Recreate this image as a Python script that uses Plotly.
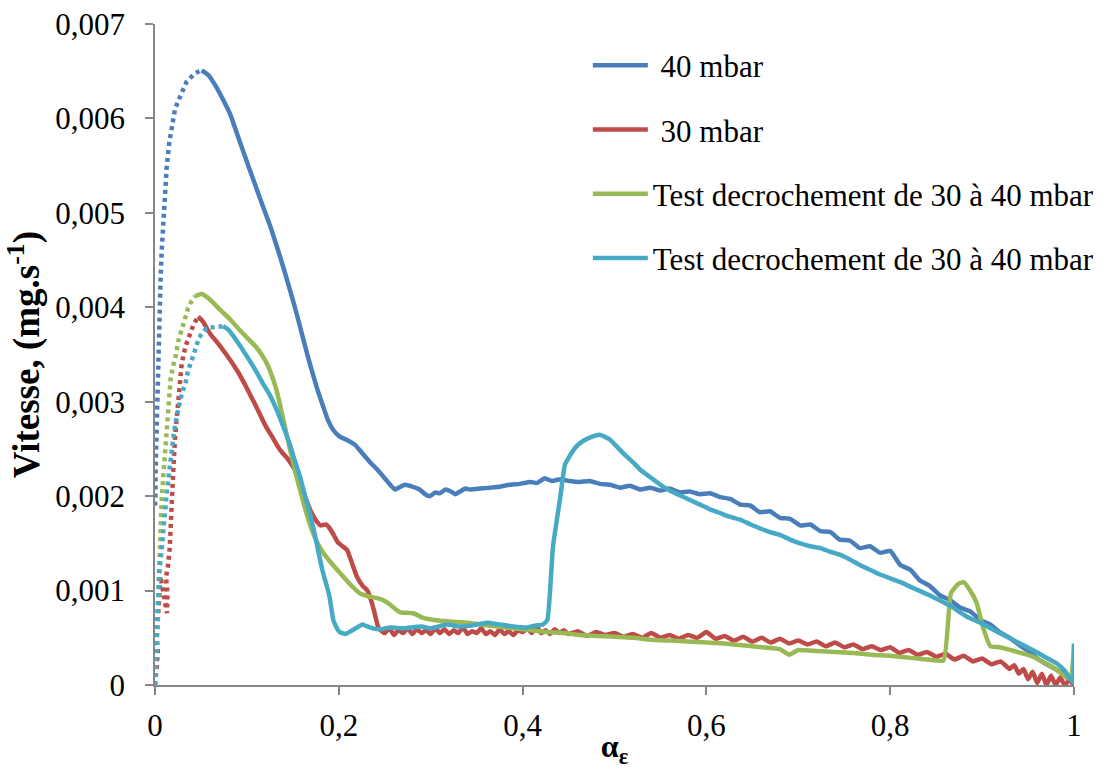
import plotly.graph_objects as go

# ---------------- data ----------------
# 40 mbar : dotted start, then solid
blue_dot_x = [0.0, 0.0004, 0.0007, 0.0018, 0.0036, 0.0047, 0.0062, 0.0073, 0.0091, 0.0109,
              0.0127, 0.0156, 0.0181, 0.0218, 0.029, 0.0345, 0.0435, 0.0508]
blue_dot_y = [1.90e-3, 1.96e-3, 2.31e-3, 2.75e-3, 3.63e-3, 3.99e-3, 4.34e-3, 4.60e-3, 4.96e-3, 5.24e-3,
              5.48e-3, 5.75e-3, 5.88e-3, 6.10e-3, 6.27e-3, 6.39e-3, 6.48e-3, 6.51e-3]
blue_x = [0.0508, 0.058, 0.065, 0.074, 0.082, 0.092, 0.103, 0.114, 0.125, 0.136,
          0.147, 0.155, 0.163, 0.170, 0.177, 0.183, 0.188, 0.194, 0.201, 0.210,
          0.218, 0.226, 0.234, 0.242, 0.250, 0.256, 0.261, 0.267, 0.272, 0.280,
          0.288, 0.294, 0.299, 0.305, 0.310, 0.316, 0.322, 0.327, 0.332, 0.338,
          0.343, 0.354, 0.365, 0.375, 0.386, 0.397, 0.408, 0.416, 0.424, 0.432,
          0.441, 0.451, 0.462, 0.473, 0.484, 0.495, 0.506, 0.517, 0.528, 0.539,
          0.550, 0.560, 0.571, 0.582, 0.593, 0.604, 0.615, 0.626, 0.637, 0.648,
          0.658, 0.669, 0.680, 0.691, 0.702, 0.713, 0.724, 0.735, 0.745, 0.756,
          0.767, 0.778, 0.789, 0.800, 0.811, 0.822, 0.832, 0.843, 0.854, 0.865,
          0.876, 0.887, 0.898, 0.909, 0.919, 0.930, 0.941, 0.952, 0.963, 0.974,
          0.985, 0.992, 0.998, 1.0]
blue_y = [6.51e-3, 6.46e-3, 6.36e-3, 6.20e-3, 6.04e-3, 5.76e-3, 5.46e-3, 5.16e-3, 4.87e-3, 4.54e-3,
          4.18e-3, 3.90e-3, 3.60e-3, 3.35e-3, 3.12e-3, 2.95e-3, 2.81e-3, 2.70e-3, 2.63e-3, 2.59e-3,
          2.54e-3, 2.45e-3, 2.36e-3, 2.28e-3, 2.19e-3, 2.12e-3, 2.07e-3, 2.10e-3, 2.12e-3, 2.10e-3,
          2.07e-3, 2.02e-3, 2.00e-3, 2.04e-3, 2.03e-3, 2.07e-3, 2.05e-3, 2.02e-3, 2.05e-3, 2.08e-3,
          2.07e-3, 2.08e-3, 2.09e-3, 2.10e-3, 2.12e-3, 2.13e-3, 2.15e-3, 2.14e-3, 2.19e-3, 2.16e-3,
          2.18e-3, 2.16e-3, 2.15e-3, 2.16e-3, 2.13e-3, 2.12e-3, 2.09e-3, 2.11e-3, 2.07e-3, 2.09e-3,
          2.06e-3, 2.08e-3, 2.04e-3, 2.05e-3, 2.02e-3, 2.03e-3, 1.99e-3, 1.97e-3, 1.91e-3, 1.90e-3,
          1.83e-3, 1.84e-3, 1.77e-3, 1.76e-3, 1.69e-3, 1.70e-3, 1.63e-3, 1.62e-3, 1.54e-3, 1.53e-3,
          1.45e-3, 1.47e-3, 1.40e-3, 1.42e-3, 1.27e-3, 1.22e-3, 1.11e-3, 1.05e-3, 0.95e-3, 0.90e-3,
          0.82e-3, 0.78e-3, 0.69e-3, 0.64e-3, 0.56e-3, 0.50e-3, 0.42e-3, 0.35e-3, 0.26e-3, 0.20e-3,
          0.14e-3, 0.08e-3, 0.03e-3, 0.0]

# 30 mbar
red_dot_x = [0.0, 0.001, 0.002, 0.003, 0.002, 0.003, 0.004, 0.005, 0.006, 0.013,
             0.0135, 0.012, 0.014, 0.016, 0.017, 0.018, 0.020, 0.022, 0.025, 0.029,
             0.033, 0.037, 0.042, 0.047]
red_dot_y = [0.0, 0.08e-3, 0.20e-3, 0.35e-3, 0.50e-3, 0.68e-3, 0.85e-3, 1.00e-3, 1.15e-3, 0.76e-3,
             0.95e-3, 1.15e-3, 1.25e-3, 1.45e-3, 1.70e-3, 2.00e-3, 2.30e-3, 2.65e-3, 3.00e-3, 3.40e-3,
             3.58e-3, 3.70e-3, 3.82e-3, 3.90e-3]
red_x = [0.047, 0.052, 0.060, 0.070, 0.082, 0.090, 0.098, 0.109, 0.120, 0.128,
         0.136, 0.144, 0.152, 0.158, 0.163, 0.169, 0.174, 0.180, 0.186, 0.190,
         0.195, 0.199, 0.204, 0.209, 0.214, 0.220, 0.226, 0.231, 0.236, 0.239,
         0.243, 0.248,
         0.25, 0.255, 0.26, 0.265, 0.27, 0.275, 0.28, 0.285, 0.29, 0.295,
         0.30, 0.305, 0.31, 0.315, 0.32, 0.325, 0.33, 0.335, 0.34, 0.345,
         0.35, 0.355, 0.36, 0.365, 0.37, 0.375, 0.38, 0.385, 0.39, 0.395,
         0.40, 0.405, 0.41, 0.415, 0.42, 0.425, 0.43, 0.435, 0.44, 0.445,
         0.45, 0.46, 0.47, 0.48, 0.49, 0.50, 0.51, 0.52, 0.53, 0.54,
         0.55, 0.56, 0.57, 0.58, 0.59, 0.60, 0.61, 0.62, 0.63, 0.64,
         0.65, 0.66, 0.67, 0.68, 0.69, 0.70, 0.71, 0.72, 0.73, 0.74,
         0.75, 0.76, 0.77, 0.78, 0.79, 0.80, 0.81, 0.82, 0.83, 0.84,
         0.85, 0.86, 0.87, 0.88, 0.89, 0.90, 0.91, 0.92, 0.93, 0.935,
         0.94, 0.945, 0.95, 0.955, 0.96, 0.965, 0.97, 0.975, 0.98, 0.985,
         0.99, 0.995, 1.0]
red_y = [3.90e-3, 3.85e-3, 3.72e-3, 3.60e-3, 3.44e-3, 3.32e-3, 3.18e-3, 2.97e-3, 2.75e-3, 2.62e-3,
         2.49e-3, 2.40e-3, 2.28e-3, 2.12e-3, 2.00e-3, 1.85e-3, 1.76e-3, 1.69e-3, 1.70e-3, 1.66e-3,
         1.58e-3, 1.51e-3, 1.47e-3, 1.43e-3, 1.30e-3, 1.14e-3, 1.05e-3, 1.00e-3, 0.87e-3, 0.76e-3,
         0.61e-3, 0.56e-3,
         0.55e-3, 0.60e-3, 0.53e-3, 0.58e-3, 0.55e-3, 0.60e-3, 0.54e-3, 0.59e-3, 0.55e-3, 0.58e-3,
         0.54e-3, 0.60e-3, 0.55e-3, 0.59e-3, 0.54e-3, 0.58e-3, 0.55e-3, 0.61e-3, 0.54e-3, 0.57e-3,
         0.55e-3, 0.60e-3, 0.54e-3, 0.57e-3, 0.53e-3, 0.59e-3, 0.54e-3, 0.57e-3, 0.53e-3, 0.58e-3,
         0.56e-3, 0.60e-3, 0.55e-3, 0.63e-3, 0.55e-3, 0.58e-3, 0.54e-3, 0.59e-3, 0.55e-3, 0.58e-3,
         0.54e-3, 0.57e-3, 0.52e-3, 0.56e-3, 0.53e-3, 0.55e-3, 0.51e-3, 0.54e-3, 0.50e-3, 0.55e-3,
         0.50e-3, 0.53e-3, 0.49e-3, 0.53e-3, 0.50e-3, 0.56e-3, 0.49e-3, 0.52e-3, 0.47e-3, 0.51e-3,
         0.46e-3, 0.50e-3, 0.45e-3, 0.49e-3, 0.44e-3, 0.47e-3, 0.43e-3, 0.46e-3, 0.41e-3, 0.45e-3,
         0.40e-3, 0.43e-3, 0.38e-3, 0.41e-3, 0.37e-3, 0.40e-3, 0.34e-3, 0.37e-3, 0.32e-3, 0.35e-3,
         0.30e-3, 0.33e-3, 0.27e-3, 0.31e-3, 0.25e-3, 0.28e-3, 0.22e-3, 0.25e-3, 0.17e-3, 0.21e-3,
         0.12e-3, 0.17e-3, 0.06e-3, 0.14e-3, 0.02e-3, 0.12e-3, 0.0, 0.10e-3, 0.0, 0.08e-3,
         0.0, 0.05e-3, 0.0]

# Test decrochement (green)
green_dot_x = [0.0, 0.001, 0.002, 0.003, 0.004, 0.005, 0.006, 0.0073, 0.0091, 0.011,
               0.0127, 0.0145, 0.017, 0.020, 0.0229, 0.025, 0.029, 0.033, 0.036, 0.040,
               0.044]
green_dot_y = [0.0, 0.30e-3, 0.60e-3, 0.90e-3, 1.20e-3, 1.45e-3, 1.70e-3, 1.96e-3, 2.22e-3, 2.49e-3,
               2.75e-3, 3.02e-3, 3.24e-3, 3.39e-3, 3.50e-3, 3.63e-3, 3.76e-3, 3.88e-3, 3.99e-3, 4.07e-3,
               4.12e-3]
green_x = [0.044, 0.051, 0.060, 0.070, 0.082, 0.092, 0.103, 0.110, 0.116, 0.122,
           0.127, 0.132, 0.136, 0.141, 0.147, 0.155, 0.163, 0.170, 0.176, 0.183,
           0.192, 0.201, 0.212, 0.223, 0.232, 0.242, 0.250, 0.256, 0.262, 0.267,
           0.281, 0.292, 0.310, 0.324, 0.340, 0.354, 0.372, 0.390, 0.410, 0.427,
           0.445, 0.462, 0.48, 0.50, 0.52, 0.54, 0.56, 0.58, 0.60, 0.62,
           0.64, 0.66, 0.68, 0.69, 0.70, 0.72, 0.74, 0.76, 0.78, 0.80,
           0.82, 0.84, 0.858, 0.866, 0.874, 0.880, 0.887, 0.894, 0.901, 0.909,
           0.919, 0.935, 0.955, 0.977, 0.996, 1.0]
green_y = [4.12e-3, 4.14e-3, 4.08e-3, 3.98e-3, 3.87e-3, 3.76e-3, 3.65e-3, 3.58e-3, 3.50e-3, 3.40e-3,
           3.28e-3, 3.13e-3, 2.97e-3, 2.75e-3, 2.49e-3, 2.17e-3, 1.88e-3, 1.66e-3, 1.52e-3, 1.40e-3,
           1.29e-3, 1.19e-3, 1.07e-3, 0.97e-3, 0.94e-3, 0.92e-3, 0.89e-3, 0.85e-3, 0.80e-3, 0.77e-3,
           0.76e-3, 0.71e-3, 0.68e-3, 0.67e-3, 0.66e-3, 0.64e-3, 0.62e-3, 0.60e-3, 0.58e-3, 0.56e-3,
           0.55e-3, 0.53e-3, 0.52e-3, 0.51e-3, 0.50e-3, 0.48e-3, 0.47e-3, 0.46e-3, 0.45e-3, 0.44e-3,
           0.42e-3, 0.40e-3, 0.38e-3, 0.32e-3, 0.37e-3, 0.36e-3, 0.35e-3, 0.34e-3, 0.32e-3, 0.31e-3,
           0.29e-3, 0.27e-3, 0.26e-3, 0.97e-3, 1.07e-3, 1.09e-3, 1.00e-3, 0.87e-3, 0.61e-3, 0.41e-3,
           0.40e-3, 0.36e-3, 0.30e-3, 0.19e-3, 0.06e-3, 0.42e-3]

# Test decrochement (cyan)
cyan_dot_x = [0.0, 0.001, 0.002, 0.002, 0.003, 0.004, 0.005, 0.0073, 0.009, 0.011,
              0.013, 0.016, 0.018, 0.021, 0.0236, 0.026, 0.029, 0.033, 0.036, 0.040,
              0.048, 0.056, 0.067, 0.074]
cyan_dot_y = [0.0, 0.18e-3, 0.42e-3, 0.61e-3, 0.87e-3, 1.11e-3, 1.24e-3, 1.43e-3, 1.65e-3, 1.85e-3,
              2.05e-3, 2.30e-3, 2.49e-3, 2.70e-3, 2.84e-3, 2.95e-3, 3.08e-3, 3.19e-3, 3.33e-3, 3.44e-3,
              3.68e-3, 3.78e-3, 3.79e-3, 3.80e-3]
cyan_x = [0.074, 0.080, 0.092, 0.100, 0.109, 0.117, 0.125, 0.133, 0.141, 0.147,
          0.152, 0.158, 0.163, 0.169, 0.174, 0.178, 0.182, 0.186, 0.190, 0.194,
          0.198, 0.201, 0.207, 0.215, 0.220, 0.226, 0.231, 0.237, 0.245, 0.256,
          0.270, 0.290, 0.300, 0.318, 0.330, 0.345, 0.361, 0.375, 0.390, 0.405,
          0.415, 0.422, 0.427, 0.433, 0.441, 0.446, 0.451, 0.457, 0.465, 0.473,
          0.484, 0.495, 0.503, 0.511, 0.520, 0.528, 0.539, 0.550, 0.560, 0.571,
          0.582, 0.593, 0.604, 0.615, 0.626, 0.637, 0.648, 0.658, 0.669, 0.680,
          0.691, 0.702, 0.713, 0.724, 0.735, 0.745, 0.756, 0.767, 0.778, 0.789,
          0.800, 0.811, 0.829, 0.847, 0.865, 0.884, 0.900, 0.919, 0.937, 0.955,
          0.968, 0.981, 0.990, 0.999, 1.0]
cyan_y = [3.80e-3, 3.76e-3, 3.60e-3, 3.48e-3, 3.34e-3, 3.20e-3, 3.07e-3, 2.90e-3, 2.70e-3, 2.54e-3,
          2.38e-3, 2.20e-3, 2.01e-3, 1.80e-3, 1.59e-3, 1.40e-3, 1.22e-3, 1.08e-3, 0.93e-3, 0.69e-3,
          0.60e-3, 0.56e-3, 0.54e-3, 0.58e-3, 0.61e-3, 0.64e-3, 0.62e-3, 0.60e-3, 0.59e-3, 0.61e-3,
          0.60e-3, 0.62e-3, 0.60e-3, 0.64e-3, 0.62e-3, 0.63e-3, 0.66e-3, 0.64e-3, 0.62e-3, 0.61e-3,
          0.63e-3, 0.64e-3, 0.69e-3, 1.46e-3, 1.99e-3, 2.33e-3, 2.42e-3, 2.51e-3, 2.58e-3, 2.62e-3,
          2.65e-3, 2.60e-3, 2.52e-3, 2.44e-3, 2.36e-3, 2.28e-3, 2.20e-3, 2.12e-3, 2.06e-3, 2.01e-3,
          1.96e-3, 1.91e-3, 1.86e-3, 1.82e-3, 1.78e-3, 1.75e-3, 1.70e-3, 1.66e-3, 1.62e-3, 1.59e-3,
          1.54e-3, 1.50e-3, 1.47e-3, 1.45e-3, 1.41e-3, 1.38e-3, 1.33e-3, 1.27e-3, 1.22e-3, 1.17e-3,
          1.13e-3, 1.09e-3, 1.01e-3, 0.93e-3, 0.84e-3, 0.72e-3, 0.65e-3, 0.55e-3, 0.46e-3, 0.37e-3,
          0.30e-3, 0.23e-3, 0.15e-3, 0.03e-3, 0.44e-3]

series_names = ["\u00a040 mbar", "\u00a030 mbar",
                "Test decrochement de 30 à 40 mbar", "Test decrochement de 30 à 40 mbar"]
series_colors = ["#4A7EBB", "#BE4B48", "#98B954", "#46AAC5"]

x_tick_vals = [0, 0.2, 0.4, 0.6, 0.8, 1.0]
x_tick_text = ["0", "0,2", "0,4", "0,6", "0,8", "1"]
y_tick_vals = [0, 0.001, 0.002, 0.003, 0.004, 0.005, 0.006, 0.007]
y_tick_text = ["0", "0,001", "0,002", "0,003", "0,004", "0,005", "0,006", "0,007"]

# ---------------- figure ----------------
solid = [(blue_x, blue_y), (red_x, red_y), (green_x, green_y), (cyan_x, cyan_y)]
dotted = [(blue_dot_x, blue_dot_y), (red_dot_x, red_dot_y),
          (green_dot_x, green_dot_y), (cyan_dot_x, cyan_dot_y)]
for (sx, sy), (dx, dy) in zip(solid, dotted):
    assert len(sx) == len(sy), (len(sx), len(sy))
    assert len(dx) == len(dy), (len(dx), len(dy))

FONT = "Liberation Serif, Times New Roman, serif"
LW = 4.5

fig = go.Figure()
for i, (sx, sy) in enumerate(solid):
    fig.add_trace(go.Scatter(
        x=sx, y=sy, mode="lines", name=series_names[i], legendgroup=f"g{i}",
        line=dict(color=series_colors[i], width=LW, shape="spline", smoothing=0.4),
        showlegend=True))
for i, (dx, dy) in enumerate(dotted):
    fig.add_trace(go.Scatter(
        x=dx, y=dy, mode="lines", legendgroup=f"g{i}", showlegend=False,
        line=dict(color=series_colors[i], width=LW, dash="4px,4px")))

axis_common = dict(
    showline=True, linecolor="#868686", linewidth=1.5,
    ticks="outside", ticklen=8, tickcolor="#868686", tickwidth=1.5,
    showgrid=False, zeroline=False, automargin=False,
    tickfont=dict(family=FONT, size=31, color="black"),
)

fig.update_layout(
    width=1113, height=769,
    margin=dict(l=155, r=39, t=24, b=84, autoexpand=False),
    paper_bgcolor="white", plot_bgcolor="white",
    font=dict(family=FONT, color="black"),
    xaxis=dict(range=[0, 1], tickvals=x_tick_vals, ticktext=x_tick_text,
               title=dict(text="<b>α<sub>ε</sub></b>", font=dict(family=FONT, size=32),
                          standoff=0),
               ticklabelstandoff=4,
               **axis_common),
    yaxis=dict(range=[0, 0.007], tickvals=y_tick_vals, ticktext=y_tick_text,
               title=dict(text="<b>Vitesse, (mg.s<sup>-1</sup>)</b>",
                          font=dict(family=FONT, size=37), standoff=4),
               ticklabelstandoff=14,
               **axis_common),
    legend=dict(x=0.471, y=0.978, xanchor="left", yanchor="top",
                bgcolor="rgba(0,0,0,0)", tracegroupgap=21,
                font=dict(family=FONT, size=31, color="black"),
                itemwidth=55),
    showlegend=True,
)

fig.write_html("out.html", config={"displayModeBar": False},
               post_script="document.body.style.margin='0px';")
